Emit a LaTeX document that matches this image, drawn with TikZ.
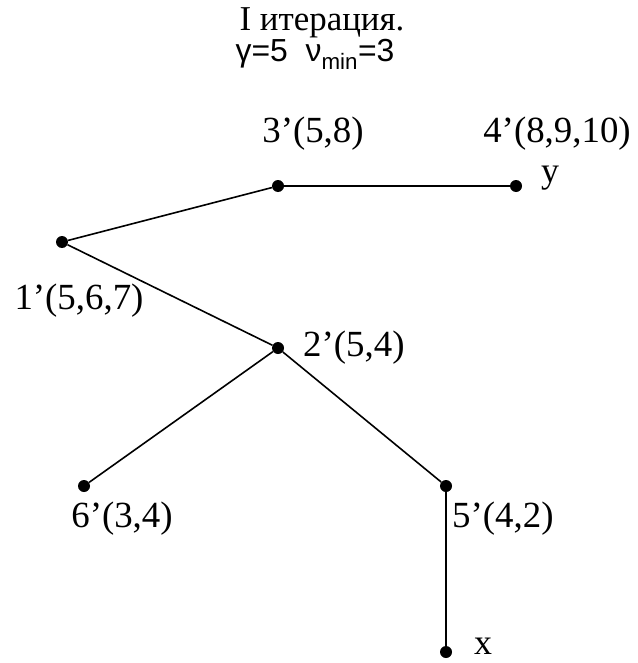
\documentclass[tikz,border=0pt]{standalone}
\usepackage{fontspec}
\setmainfont{Liberation Serif}
\newfontfamily\sansfnt{Liberation Sans}
\begin{document}
\begin{tikzpicture}[x=1bp, y=-1bp,
  vert/.style={circle, fill=black, inner sep=0pt, minimum size=12bp},
  lbl/.style={font=\fontsize{37}{40}\selectfont, inner sep=0pt},
  term/.style={font=\fontsize{36}{40}\selectfont, inner sep=0pt},
  edge/.style={line width=1.6bp}]
  \useasboundingbox (0,0) rectangle (638,663);
  % heading
  \node[lbl, font=\fontsize{35}{38}\selectfont, anchor=base] (title) at (322,31) {I итерация.};
  \node[lbl, font=\sansfnt\fontsize{32}{34}\selectfont, anchor=base] (param) at (315,62) {γ=5~~ν\textsubscript{min}=3};
  % vertices
  \node[vert] (v1) at (62,242) {};
  \node[vert] (v2) at (278,348) {};
  \node[vert] (v3) at (278,186) {};
  \node[vert] (v4) at (516,186) {};
  \node[vert] (v5) at (446,486) {};
  \node[vert] (v6) at (84,486) {};
  \node[vert] (vx) at (446,652) {};
  % edges
  \draw[edge] (v1) -- (v3) -- (v4);
  \draw[edge] (v1) -- (v2) -- (v6);
  \draw[edge] (v2) -- (v5) -- (vx);
  % labels
  \node[lbl] (l3) at (313,134) {3’(5,8)};
  \node[lbl] (l4) at (557,134) {4’(8,9,10)};
  \node[lbl] (l1) at (79,301) {1’(5,6,7)};
  \node[lbl, anchor=west] (l2) at (303,348) {2’(5,4)};
  \node[lbl] (l6) at (122,519) {6’(3,4)};
  \node[lbl, anchor=west] (l5) at (452,519) {5’(4,2)};
  \node[term] (ly) at (550,178) {y};
  \node[term] (lx) at (483,646) {x};
\end{tikzpicture}
\end{document}
